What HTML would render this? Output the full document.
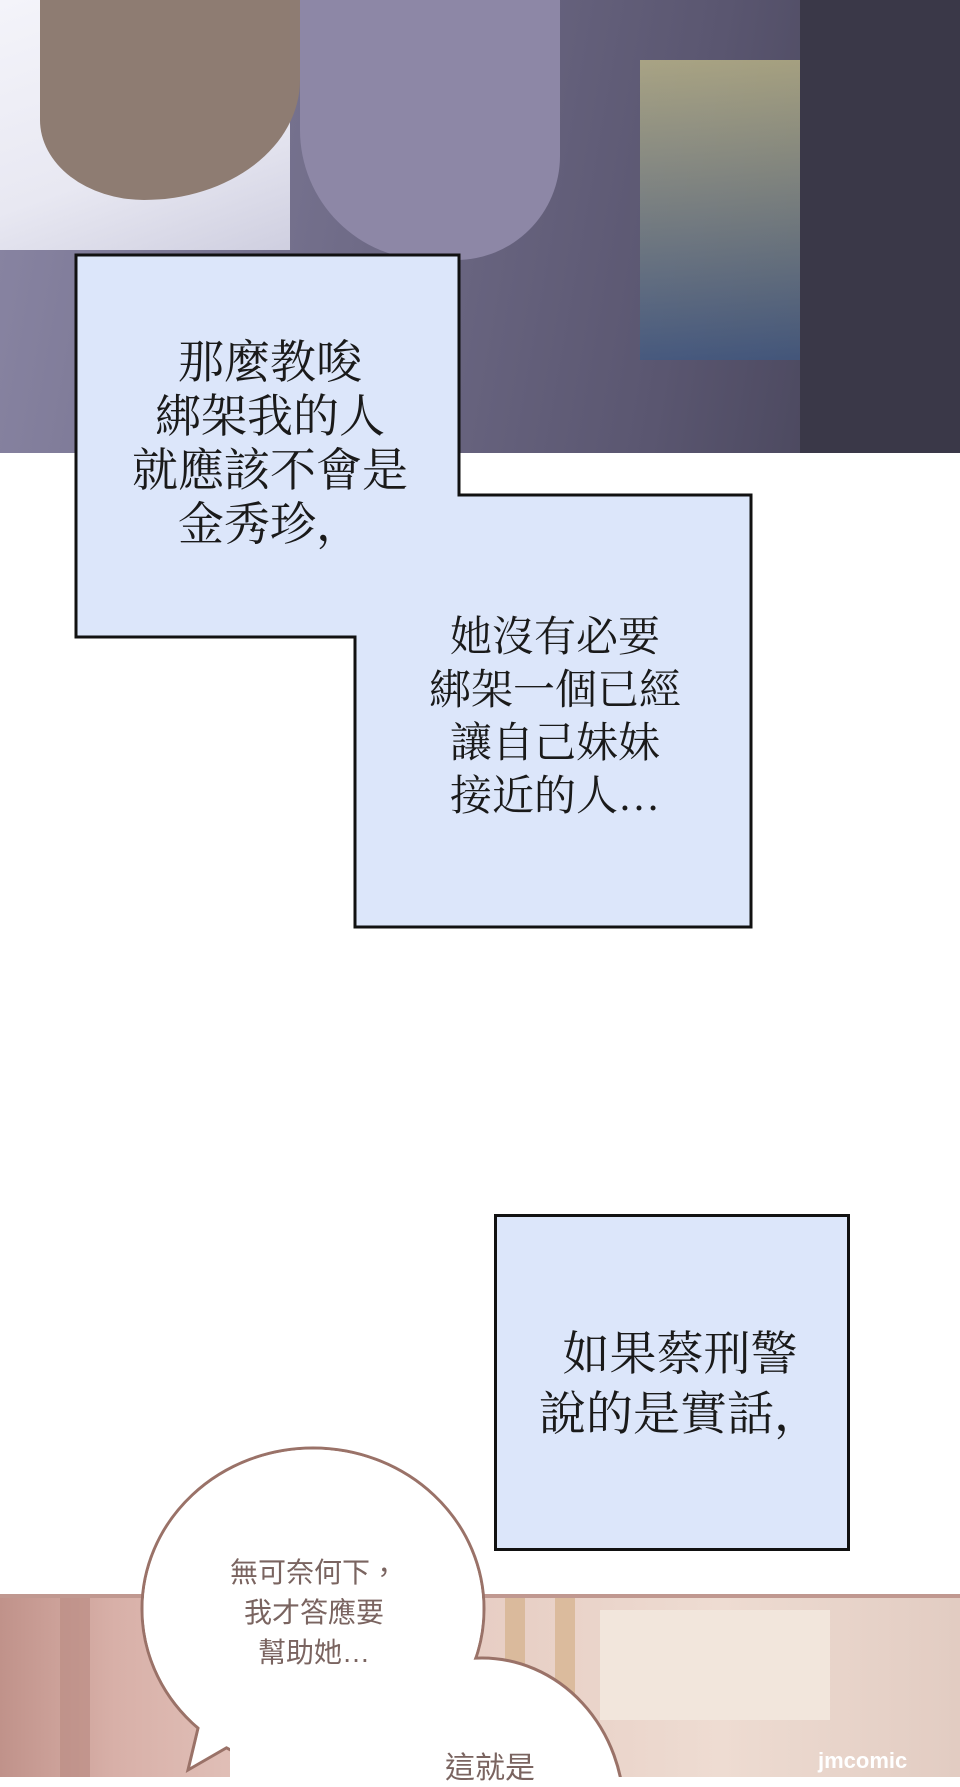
<!DOCTYPE html>
<html><head><meta charset="utf-8"><style>
body{margin:0;width:960px;height:1777px;position:relative;overflow:hidden;background:#fff;font-family:"Liberation Sans","Noto Sans CJK TC",sans-serif}
.a{position:absolute}
.box{position:absolute;background:#dce6fa;border:3px solid #111;box-sizing:border-box}
.t{position:absolute;text-align:center;color:#1a1a1a;font-family:"Liberation Serif","Noto Serif CJK SC",serif}
</style></head><body>
<div class="a" style="left:0;top:0;width:960px;height:453px;background:linear-gradient(100deg,#8a86a4 0%,#6e6a86 40%,#5a5670 70%,#3f3d50 100%)"></div>
<div class="a" style="left:0;top:0;width:290px;height:250px;background:linear-gradient(160deg,#f4f4fa 0%,#e8e8f2 60%,#cfcfe0 100%)"></div>
<div class="a" style="left:40px;top:0;width:260px;height:200px;border-radius:0 0 60% 40%;background:#8e7c72"></div>
<div class="a" style="left:300px;top:0;width:260px;height:260px;border-radius:0 0 40% 50%;background:#8d87a6"></div>
<div class="a" style="left:640px;top:60px;width:160px;height:300px;background:linear-gradient(#c8c28a,#3e5a84);opacity:.7"></div>
<div class="a" style="left:800px;top:0;width:160px;height:453px;background:#3a3848"></div>
<svg class="a" style="left:0;top:0" width="960" height="1000">
<polygon points="76,255 459,255 459,495 751,495 751,927 355,927 355,637 76,637" fill="#dce6fa" stroke="#111" stroke-width="3"/>
</svg>
<div class="t" style="left:100px;top:336px;width:340px;font-size:46px;line-height:54px">那麼教唆<br>綁架我的人<br>就應該不會是<br>金秀珍，</div>
<div class="t" style="left:400px;top:612px;width:310px;font-size:42px;line-height:53px">她沒有必要<br>綁架一個已經<br>讓自己妹妹<br>接近的人…</div>
<div class="box" style="left:494px;top:1214px;width:356px;height:337px"></div>
<div class="t" style="left:520px;top:1325px;width:320px;font-size:47px;line-height:60px">如果蔡刑警<br>說的是實話，</div>
<div class="a" style="left:0;top:1594px;width:960px;height:183px;background:linear-gradient(90deg,#c0928a 0%,#d8b0a8 12%,#e4c6be 30%,#e8d0c6 55%,#eedcd2 75%,#e2ccc2 100%)"></div>
<div class="a" style="left:0;top:1594px;width:960px;height:4px;background:#c09890"></div>
<div class="a" style="left:60px;top:1598px;width:30px;height:179px;background:#b88880;opacity:.6"></div>
<div class="a" style="left:505px;top:1598px;width:20px;height:120px;background:#d4b08a;opacity:.7"></div>
<div class="a" style="left:555px;top:1598px;width:20px;height:120px;background:#d4b08a;opacity:.7"></div>
<div class="a" style="left:600px;top:1610px;width:230px;height:110px;background:#f2e6dc"></div>
<svg class="a" style="left:0;top:1400px" width="960" height="377">
<g fill="#fff" stroke="#9a7268" stroke-width="3">
<ellipse cx="313" cy="209" rx="171" ry="161"/>
<polygon points="200,320 188,370 240,340" />
<ellipse cx="482" cy="412" rx="142" ry="154"/>
</g>
<ellipse cx="313" cy="209" rx="169.5" ry="159.5" fill="#fff"/>
<polygon points="202,318 191,366 238,338" fill="#fff"/>
<rect x="230" y="300" width="200" height="80" fill="#fff"/>
</svg>
<div class="t" style="left:174px;top:1553px;width:280px;font-size:28px;line-height:40px;color:#7a6460;font-family:'Liberation Sans','Noto Sans CJK TC',sans-serif">無可奈何下，<br>我才答應要<br>幫助她…</div>
<div class="t" style="left:420px;top:1743px;width:140px;font-size:30px;color:#7a6460;font-family:'Liberation Sans','Noto Sans CJK TC',sans-serif">這就是</div>
<div class="a" style="left:818px;top:1748px;font-size:22px;color:#fff;font-weight:bold">jmcomic</div>
</body></html>
